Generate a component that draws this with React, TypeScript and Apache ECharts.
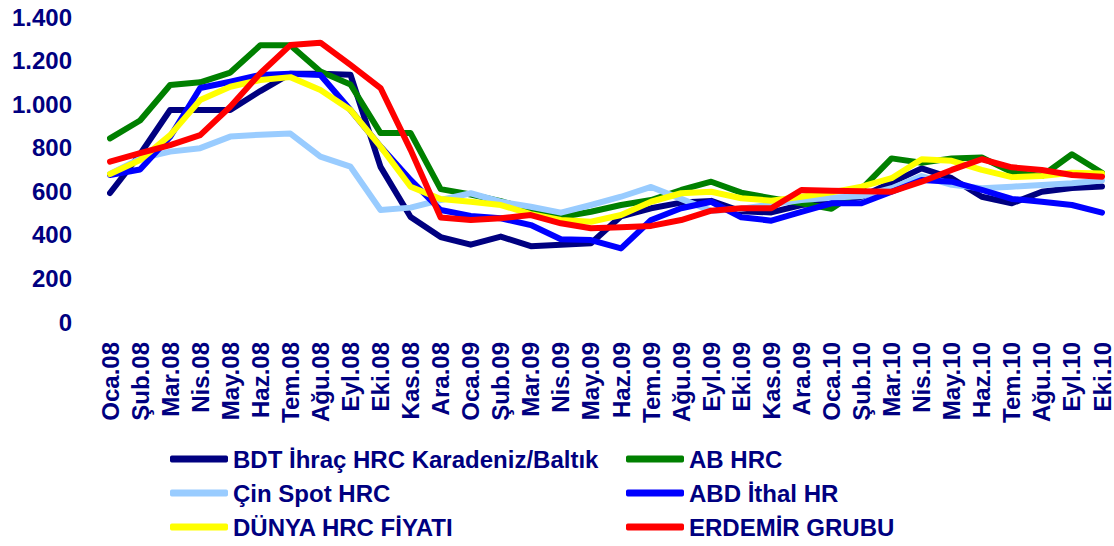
import React, { useEffect, useRef } from "react";
import * as echarts from "echarts";

const categories = [
  "Oca.08", "Şub.08", "Mar.08", "Nis.08", "May.08", "Haz.08", "Tem.08", "Ağu.08", "Eyl.08", "Eki.08", "Kas.08", "Ara.08",
  "Oca.09", "Şub.09", "Mar.09", "Nis.09", "May.09", "Haz.09", "Tem.09", "Ağu.09", "Eyl.09", "Eki.09", "Kas.09", "Ara.09",
  "Oca.10", "Şub.10", "Mar.10", "Nis.10", "May.10", "Haz.10", "Tem.10", "Ağu.10", "Eyl.10", "Eki.10",
];

const bdtValues = [
  592, 770, 973, 973, 973, 1060, 1140, 1140, 1135, 712, 482, 390,
  355, 392, 348, 355, 362, 485, 522, 548, 556, 508, 503, 537,
  550, 575, 640, 705, 660, 575, 545, 598, 615, 622,
];
const abValues = [
  843, 925, 1088, 1100, 1145, 1270, 1270, 1150, 1090, 867, 867, 610,
  585, 555, 515, 482, 506, 537, 560, 606, 644, 594, 568, 545,
  520, 610, 751, 731, 751, 755, 688, 670, 770, 685,
];
const cinValues = [
  680, 750, 782, 798, 851, 860, 865, 759, 713, 514, 525, 560,
  591, 552, 529, 502, 537, 575, 620, 565, 510, 520, 540, 560,
  570, 578, 614, 670, 630, 614, 621, 629, 637, 650,
];
const abdValues = [
  675, 700, 850, 1074, 1103, 1134, 1140, 1134, 973, 805, 652, 514,
  487, 476, 445, 380, 376, 338, 468, 522, 552, 481, 465, 506,
  545, 545, 598, 652, 644, 606, 565, 552, 537, 502,
];
const dunyaValues = [
  679, 743, 858, 1019, 1080, 1111, 1124, 1065, 973, 805, 621, 565,
  552, 537, 495, 468, 460, 491, 552, 591, 598, 568, 557, 575,
  595, 621, 660, 747, 740, 698, 665, 670, 685, 682,
];
const erdemirValues = [
  736, 775, 812, 858, 988, 1142, 1271, 1282, 1180, 1074, 790, 480,
  468, 476, 491, 453, 430, 435, 441, 468, 511, 522, 522, 606,
  603, 600, 598, 644, 698, 747, 710, 698, 675, 667,
];

const yTicks = { min: 0, max: 1400, interval: 200 };

const seriesDefs = [
  { name: "BDT İhraç HRC Karadeniz/Baltık", color: "#000080", data: bdtValues },
  { name: "AB HRC", color: "#008000", data: abValues },
  { name: "Çin Spot HRC", color: "#99ccff", data: cinValues },
  { name: "ABD İthal HR", color: "#0000ff", data: abdValues },
  { name: "DÜNYA HRC FİYATI", color: "#ffff00", data: dunyaValues },
  { name: "ERDEMİR GRUBU", color: "#ff0000", data: erdemirValues },
];

const NAVY = "#000080";
const FONT = "'Liberation Sans', Arial, sans-serif";

function fmt(v: number): string {
  if (v >= 1000) {
    const t = Math.floor(v / 1000);
    const r = String(v % 1000).padStart(3, "0");
    return `${t}.${r}`;
  }
  return String(v);
}

export default function App() {
  const ref = useRef<HTMLDivElement>(null);
  useEffect(() => {
    if (!ref.current) return;
    const chart = echarts.init(ref.current, undefined, { renderer: "svg" });
    const legendCommon = {
      orient: "vertical" as const,
      top: 447,
      height: 120,
      itemGap: 10,
      itemWidth: 58,
      itemHeight: 7,
      padding: 0,
      icon: "roundRect",
      textStyle: {
        color: NAVY,
        fontWeight: "bold" as const,
        fontSize: 24,
        lineHeight: 24,
        fontFamily: FONT,
      },
      selectedMode: false,
    };
    chart.setOption({
      animation: false,
      backgroundColor: "#ffffff",
      grid: { left: 110, right: 9, top: 17, bottom: 224, containLabel: false },
      legend: [
        { ...legendCommon, left: 170, data: [seriesDefs[0].name, seriesDefs[2].name, seriesDefs[4].name] },
        { ...legendCommon, left: 626, data: [seriesDefs[1].name, seriesDefs[3].name, seriesDefs[5].name] },
      ],
      xAxis: {
        type: "category",
        data: categories,
        boundaryGap: false,
        axisLine: { show: false },
        axisTick: { show: false },
        splitLine: { show: false },
        axisLabel: {
          rotate: 90,
          interval: 0,
          margin: 20,
          color: NAVY,
          fontWeight: "bold",
          fontSize: 24,
          fontFamily: FONT,
        },
      },
      yAxis: {
        type: "value",
        min: yTicks.min,
        max: yTicks.max,
        interval: yTicks.interval,
        axisLine: { show: false },
        axisTick: { show: false },
        splitLine: { show: false },
        axisLabel: {
          margin: 38,
          color: NAVY,
          fontWeight: "bold",
          fontSize: 24,
          fontFamily: FONT,
          formatter: (v: number) => fmt(v),
        },
      },
      series: seriesDefs.map((s) => ({
        name: s.name,
        type: "line",
        data: s.data,
        symbol: "none",
        showSymbol: false,
        color: s.color,
        lineStyle: { color: s.color, width: 6, cap: "round", join: "round" },
        itemStyle: { color: s.color },
      })),
    });
    return () => chart.dispose();
  }, []);
  return (
    <div
      ref={ref}
      style={{ position: "fixed", left: 0, top: 0, width: 1114, height: 546, background: "#fff" }}
    />
  );
}
